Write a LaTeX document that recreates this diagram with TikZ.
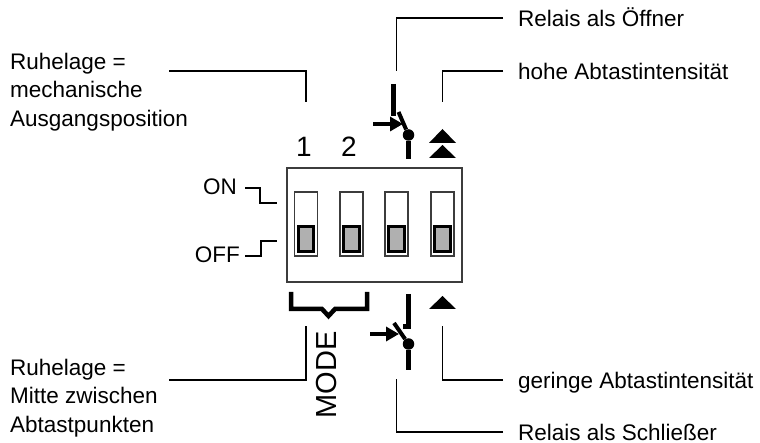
\documentclass[tikz,border=0pt]{standalone}
\usepackage{fontspec}
\setmainfont{Liberation Sans}
\usepackage{tikz}
\usetikzlibrary{arrows.meta, positioning}
\definecolor{knobgray}{RGB}{176,176,176}
\definecolor{framegray}{RGB}{60,60,60}

\begin{document}
\begin{tikzpicture}[
    x=1pt, y=-1pt,
    lbl/.style={inner sep=0pt, font=\fontsize{22.5}{28.5}\selectfont, align=left},
    rlbl/.style={lbl, anchor=west, inner xsep=15pt, text height=17pt, text depth=0pt},
    num/.style={inner sep=0pt, anchor=base, font=\fontsize{28}{28}\selectfont},
    lead/.style={line width=1.7pt, color=black},
    wire/.style={line width=5pt, color=black},
    brace/.style={line width=4.5pt, color=black, line join=miter},
    relayarr/.style={-{Triangle[length=13pt, width=14pt]}, line width=4pt, color=black},
    pivot/.style={circle, fill=black, inner sep=0pt, minimum size=11.5pt},
    slot/.style={rectangle, draw=framegray, fill=white, line width=1.3pt, inner sep=0pt, minimum width=23pt, minimum height=64pt},
    knob/.style={rectangle, draw=black, fill=knobgray, line width=3pt, inner sep=0pt, minimum width=15.5pt, minimum height=25pt},
    tri/.style={fill=black}
]
\useasboundingbox (0,0) rectangle (760,443);

% switch body
\node[rectangle, draw=framegray, line width=1.3pt, inner sep=0pt, minimum width=175pt, minimum height=114pt] (body) at (374.5,225) {};
\node[slot] (slot1) at (306,224) {};
\node[slot] (slot2) at (351.5,224) {};
\node[slot] (slot3) at (396.5,224) {};
\node[slot] (slot4) at (442.5,224) {};
\node[knob] (knob1) at (306,239) {};
\node[knob] (knob2) at (351.5,239) {};
\node[knob] (knob3) at (396.5,239) {};
\node[knob] (knob4) at (442.5,239) {};
\node[num] (one) at (304,157) {1};
\node[num] (two) at (349,157) {2};
\node[num, rotate=90, font=\fontsize{29}{29}\selectfont, anchor=center] (mode) at (327,375) {MODE};

% texts
\node[lbl, anchor=west] (restup) at (10,92) {Ruhelage =\\mechanische\\Ausgangsposition};
\node[lbl, anchor=west] (restmid) at (10,398) {Ruhelage =\\Mitte zwischen\\Abtastpunkten};
\node[lbl, anchor=base east] (on) at (237,195) {ON};
\node[lbl, anchor=base east] (off) at (240,263) {OFF};
\node[rlbl] (opener) at (503,18) {Relais als Öffner};
\node[rlbl] (high) at (503,71) {hohe Abtastintensität};
\node[rlbl] (low) at (503,380) {geringe Abtastintensität};
\node[rlbl] (closer) at (503,432) {Relais als Schließer};

% leader lines
\coordinate (upstart) at (169,71);
\coordinate (upend) at (306,102);
\coordinate (midstart) at (169,380);
\coordinate (midend) at (306,326);
\coordinate (openerend) at (396.5,71);
\coordinate (highend) at (442.5,102);
\coordinate (lowend) at (442.5,326);
\coordinate (closerend) at (396.5,379);
\coordinate (onend) at (277,203);
\coordinate (offend) at (277,241);
\draw[lead] (upstart) -| (upend);
\draw[lead] (midstart) -| (midend);
\draw[lead] (opener.west) -| (openerend);
\draw[lead] (high.west) -| (highend);
\draw[lead] (low.west) -| (lowend);
\draw[lead] (closer.west) -| (closerend);
\draw[lead] (245,188) -| (260,203) -- (onend);
\draw[lead] (245,256) -| (261,241) -- (offend);

% relay as opener
\node[pivot] (pivotup) at (408.5,135) {};
\coordinate (contactup) at (393.5,84);
\coordinate (contactupend) at (393.5,116);
\coordinate (bladeup) at (398.5,112);
\coordinate (legup) at (408.5,159.5);
\coordinate (arrowup) at (373,124);
\draw[wire] (contactup) -- (contactupend);
\draw[line width=4pt] (bladeup) -- (pivotup);
\draw[wire] (pivotup) -- (legup);
\draw[relayarr] (arrowup) -- ++(30,0);

% relay as closer
\node[pivot] (pivotlow) at (408.5,344) {};
\coordinate (contactlow) at (408.5,294);
\coordinate (bladelow) at (394,323);
\coordinate (leglow) at (408.5,370);
\coordinate (arrowlow) at (370,334);
\draw[wire] (contactlow) -- (408.5,327) -- (403,327);
\draw[line width=4pt] (bladelow) -- (pivotlow);
\draw[wire] (pivotlow) -- (leglow);
\draw[relayarr] (arrowlow) -- ++(29,0);

% intensity marks
\fill[tri] (429,143) -- (442.5,129) -- (456,143) -- cycle;
\fill[tri] (429,158) -- (442.5,145) -- (456,158) -- cycle;
\fill[tri] (429,309) -- (442.5,296) -- (456,309) -- cycle;

% mode bracket
\draw[brace] (291,292) -- (291,309) -- (322,309) -- (328.5,316) -- (335,309) -- (367,309) -- (367,292);
\end{tikzpicture}
\end{document}
